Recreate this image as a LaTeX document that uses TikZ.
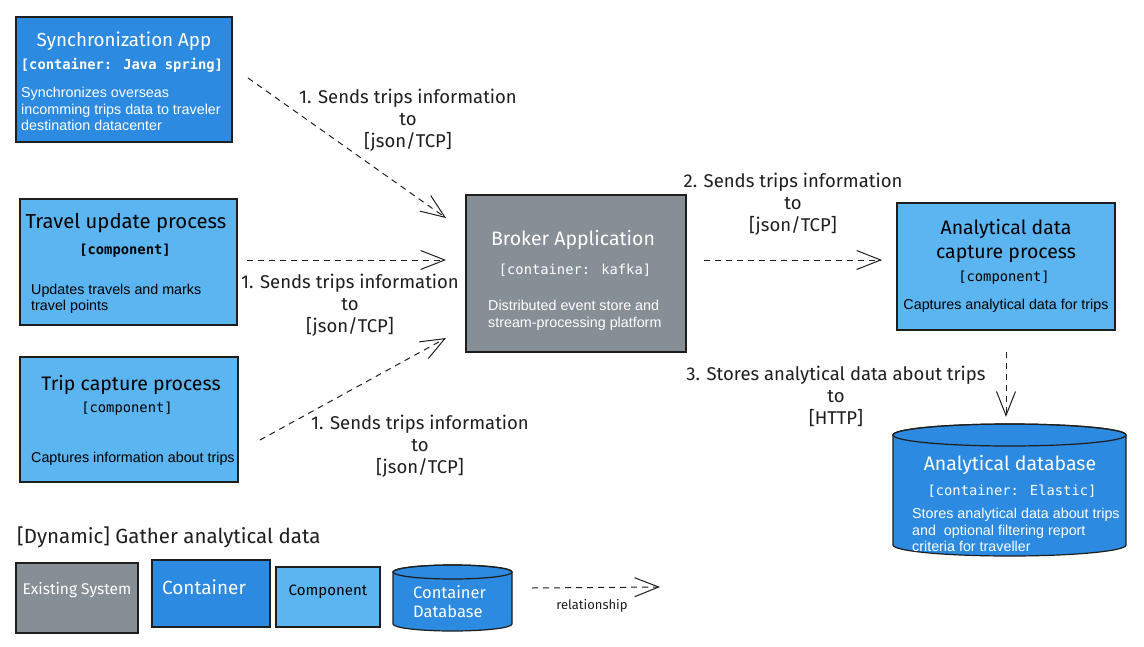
\documentclass[tikz,border=0pt]{standalone}
\usepackage{fontspec}
\setmainfont{Liberation Sans}
\newfontfamily\handfont{Fira Sans}
\newfontfamily\codefont{DejaVu Sans Mono}
\usetikzlibrary{calc}
\usetikzlibrary{arrows.meta}
\definecolor{ink}{HTML}{1E1E1E}
\definecolor{contblue}{HTML}{2C8AE1}
\definecolor{compblue}{HTML}{5BB5F1}
\definecolor{sysgray}{HTML}{868E96}
\tikzset{box/.style={draw=ink,line width=1.2pt,inner sep=0pt,outer sep=0pt}}
\tikzset{contbox/.style={box,fill=contblue}}
\tikzset{compbox/.style={box,fill=compblue}}
\tikzset{sysbox/.style={box,fill=sysgray}}
\tikzset{title/.style={font=\handfont\fontsize{19.5}{24}\selectfont,align=center,inner sep=0pt}}
\tikzset{tag/.style={font=\codefont\fontsize{13.8}{16}\selectfont,inner sep=0pt}}
\tikzset{tagb/.style={font=\codefont\bfseries\fontsize{13.8}{16}\selectfont,inner sep=0pt}}
\tikzset{body/.style={font=\fontsize{14.3}{16.5}\selectfont,align=left,anchor=west,inner sep=0pt}}
\tikzset{lbl/.style={font=\handfont\fontsize{18.5}{22}\selectfont,align=center,inner sep=0pt,text=ink}}
\tikzset{rel/.style={draw=ink,line width=1pt,dash pattern=on 6pt off 5pt,-{Straight Barb[length=24pt,width=19pt,line width=1pt]}}}

\begin{document}
\begin{tikzpicture}[x=1pt,y=-1pt]
    \path[fill=white,use as bounding box] (0,0) rectangle (1144,646);

    \node[contbox,minimum width=216pt,minimum height=125pt] (sync) at (124,79.5) {};
    \node[compbox,minimum width=217pt,minimum height=126pt] (travel) at (128.5,262) {};
    \node[compbox,minimum width=218pt,minimum height=125pt] (trip) at (129,419.5) {};
    \node[sysbox,minimum width=220pt,minimum height=157pt] (broker) at (576,273.5) {};
    \node[compbox,minimum width=218pt,minimum height=127pt] (capture) at (1006,266.5) {};
    \node[inner sep=0pt,minimum width=233pt,minimum height=132pt] (db) at (1009.5,490) {};
    \filldraw[box,fill=contblue] (893,435) -- (893,545) arc[start angle=180,end angle=0,x radius=116.5,y radius=11] -- (1126,435) arc[start angle=0,end angle=-180,x radius=116.5,y radius=11] -- cycle;
    \draw[box] (1009.5,435) ellipse[x radius=116.5,y radius=11];

    \node[title,text=white,font=\handfont\fontsize{18.8}{24}\selectfont] (syncT) at (124,41) {Synchronization App};
    \node[tagb,text=white] (syncG) at (122,65) {[container: Java spring]};
    \node[body,text=white] (syncB) at (21,109) {Synchronizes overseas\\incomming trips data to traveler\\destination datacenter};

    \node[title,font=\handfont\fontsize{20.3}{24}\selectfont] (travelT) at (126,223) {Travel update process};
    \node[tagb] (travelG) at (125,251) {[component]};
    \node[body] (travelB) at (31,299) {Updates travels and marks\\travel points};

    \node[title] (tripT) at (131,385) {Trip capture process};
    \node[tag] (tripG) at (127,409) {[component]};
    \node[body] (tripB) at (31,459) {Captures information about trips};

    \node[title,text=white] (brokerT) at (573,240) {Broker Application};
    \node[tag,text=white] (brokerG) at (575,270) {[container: kafka]};
    \node[body,text=white] (brokerB) at (488,315.5) {Distributed event store and\\stream-processing platform};

    \node[title] (captureT) at (1006,241) {Analytical data\\capture process};
    \node[tag] (captureG) at (1004,278) {[component]};
    \node[body,anchor=center] (captureB) at (1006,306) {Captures analytical data for trips};

    \node[title,text=white] (dbT) at (1010,465) {Analytical database};
    \node[tag,text=white] (dbG) at (1012,491) {[container: Elastic]};
    \node[body,text=white] (dbB) at (912,530) {Stores analytical data about trips\\and~ optional filtering report\\criteria for traveller};

    \node[lbl] (send1) at (408,120) {1. Sends trips information\\to\\{[json/TCP]}};
    \node[lbl] (send2) at (350,305) {1. Sends trips information\\to\\{[json/TCP]}};
    \node[lbl] (send3) at (420,446) {1. Sends trips information\\to\\{[json/TCP]}};
    \node[lbl] (send4) at (793,204) {2. Sends trips information\\to\\{[json/TCP]}};
    \node[lbl] (store) at (836,396) {3. Stores analytical data about trips\\to\\{[HTTP]}};

    \draw[rel] ($(sync.east)+(16,-1.5)$) -- ($(broker.north west)+(-20,23)$);
    \draw[rel] ($(travel.east)+(10,-2)$) -- ($(broker.west)+(-20,-13.5)$);
    \draw[rel] ($(trip.east)+(22,20.5)$) -- ($(broker.south west)+(-20,-14)$);
    \draw[rel] ($(broker.east)+(18,-13.5)$) -- ($(capture.west)+(-15,-6.5)$);
    \draw[rel] ($(capture.south)+(0,22)$) -- ($(db.north)+(-3.5,-7)$);

    \node[lbl,anchor=west,font=\handfont\fontsize{20.5}{22}\selectfont] (legT) at (17,537) {[Dynamic] Gather analytical data};
    \node[sysbox,minimum width=122pt,minimum height=70pt] (lsys) at (77,598) {};
    \node[title,text=white,font=\handfont\fontsize{15.5}{18}\selectfont] (lsysT) at (77,590) {Existing System};
    \node[contbox,minimum width=118pt,minimum height=67pt] (lcont) at (211,593.5) {};
    \node[title,text=white,font=\handfont\fontsize{19}{22}\selectfont] (lcontT) at (204,587) {Container};
    \node[compbox,minimum width=104pt,minimum height=60pt] (lcomp) at (328,597) {};
    \node[title,font=\handfont\fontsize{15}{18}\selectfont] (lcompT) at (328,592) {Component};
    \filldraw[box,fill=contblue] (393,572) -- (393,624) arc[start angle=180,end angle=0,x radius=59.5,y radius=7] -- (512,572) arc[start angle=0,end angle=-180,x radius=59.5,y radius=7] -- cycle;
    \draw[box] (452.5,572) ellipse[x radius=59.5,y radius=7];
    \node[title,text=white,align=left,anchor=west,font=\handfont\fontsize{16.5}{19.5}\selectfont] (ldbT) at (413,601.5) {Container\\Database};
    \coordinate (rel1) at (532,588);
    \coordinate (rel2) at (660,587);
    \draw[rel] (rel1) -- (rel2);
    \node[lbl,font=\handfont\fontsize{13}{16}\selectfont] (relT) at (592,606) {relationship};
\end{tikzpicture}
\end{document}
